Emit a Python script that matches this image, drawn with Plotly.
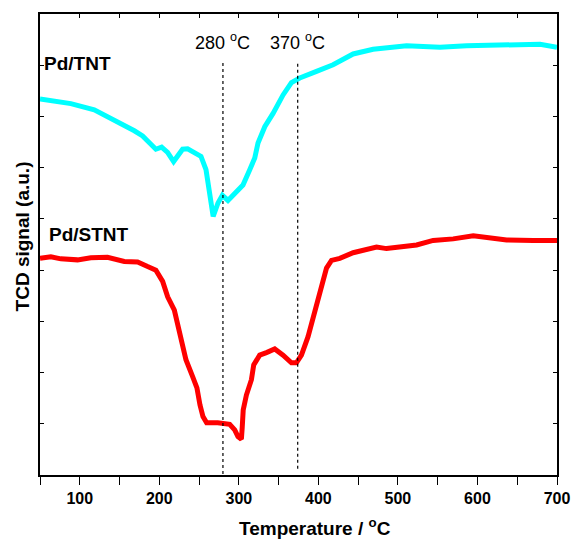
import plotly.graph_objects as go

# Pd/TNT (cyan) trace
tnt_T = [50, 88.8, 118.2, 134.9, 151.7, 168.6, 179.0, 189.5, 195.7, 202.9, 210.4, 218.0,
         223.0, 229.3, 235.6, 244.1, 252.4, 258.7, 261.7, 264.2, 267.7, 273.8, 279.3, 286.3,
         294.8, 305.2, 313.7, 320.0, 324.1, 332.6, 343.0, 355.6, 366.1, 376.6, 397.6, 418.5,
         443.7, 468.8, 510.9, 552.8, 586.4, 636.7, 678.7, 700]
tnt_sig = [7.34, 7.25, 7.13, 7.00, 6.87, 6.72, 6.62, 6.45, 6.36, 6.40, 6.30, 6.12,
           6.21, 6.36, 6.37, 6.30, 6.22, 5.96, 5.70, 5.37, 5.05, 5.31, 5.46, 5.36,
           5.50, 5.66, 5.96, 6.19, 6.48, 6.80, 7.06, 7.42, 7.66, 7.75, 7.88, 8.01,
           8.22, 8.31, 8.38, 8.35, 8.38, 8.40, 8.41, 8.35]

# Pd/STNT (red) trace
stnt_T = [50, 63.6, 76.2, 97.2, 113.9, 134.9, 156.0, 172.7, 185.3, 195.7, 204.2, 210.5,
          218.9, 223.0, 228.1, 233.5, 241.9, 247.3, 251.1, 254.9, 259.5, 273.4, 288.5, 294.8,
          298.9, 301.7, 303.2, 304.2, 305.5, 309.5, 315.8, 318.7, 326.2, 334.7, 345.1, 355.6,
          366.1, 372.4, 378.7, 387.0, 395.5, 403.9, 410.2, 416.5, 426.9, 443.7, 460.5, 473.1,
          485.7, 502.4, 523.5, 544.3, 569.5, 594.7, 615.7, 636.7, 670.2, 700]
stnt_sig = [4.23, 4.26, 4.22, 4.20, 4.24, 4.25, 4.17, 4.16, 4.07, 4.00, 3.78, 3.48,
            3.22, 2.96, 2.67, 2.25, 1.92, 1.70, 1.37, 1.14, 1.02, 1.02, 0.99, 0.88,
            0.75, 0.72, 0.70, 0.92, 1.27, 1.56, 1.86, 2.15, 2.34, 2.39, 2.46, 2.34,
            2.19, 2.19, 2.34, 2.70, 3.22, 3.68, 4.04, 4.19, 4.23, 4.34, 4.41, 4.45,
            4.42, 4.45, 4.49, 4.58, 4.61, 4.67, 4.62, 4.59, 4.58, 4.58]

marker_T = [280, 374]
marker_labels = ["280 <sup>o</sup>C", "370 <sup>o</sup>C"]
marker_top = [8.1, 8.03]
marker_bottom = [0.02, 0.12]

x_tickvals = [100, 200, 300, 400, 500, 600, 700]
x_ticktext = ["100", "200", "300", "400", "500", "600", "700"]

FONT = "Arial, Liberation Sans, sans-serif"

fig = go.Figure()
fig.add_trace(go.Scatter(x=tnt_T, y=tnt_sig, mode="lines",
                         line=dict(color="#00FFFF", width=5), showlegend=False))
fig.add_trace(go.Scatter(x=stnt_T, y=stnt_sig, mode="lines",
                         line=dict(color="#FF0000", width=5), showlegend=False))
for t, top, bot in zip(marker_T, marker_top, marker_bottom):
    fig.add_trace(go.Scatter(x=[t, t], y=[bot, top], mode="lines",
                             line=dict(color="black", width=1.2, dash="dot"),
                             showlegend=False))
# invisible trace for top axis
fig.add_trace(go.Scatter(x=[50, 700], y=[0, 0], xaxis="x2", mode="lines",
                         line=dict(width=0), opacity=0, showlegend=False, hoverinfo="skip"))

annotations = []
for t, lab in zip(marker_T, marker_labels):
    annotations.append(dict(x=t, y=(475 - 42) / 51.2, xref="x", yref="y", text=lab,
                            showarrow=False, xanchor="center", yanchor="middle",
                            font=dict(family=FONT, size=18, color="black")))
annotations.append(dict(x=53, y=(475 - 64) / 51.2, xref="x", yref="y", text="<b>Pd/TNT</b>",
                        showarrow=False, xanchor="left", yanchor="middle",
                        font=dict(family=FONT, size=19, color="black")))
annotations.append(dict(x=59, y=(475 - 235) / 51.2, xref="x", yref="y", text="<b>Pd/STNT</b>",
                        showarrow=False, xanchor="left", yanchor="middle",
                        font=dict(family=FONT, size=19, color="black")))
annotations.append(dict(x=(315 - 40) / 517, y=-0.112, xref="paper", yref="paper",
                        text="<b>Temperature / <sup>o</sup>C</b>", showarrow=False,
                        xanchor="center", yanchor="middle",
                        font=dict(family=FONT, size=19, color="black")))
annotations.append(dict(x=-0.034, y=(475 - 236) / 461, xref="paper", yref="paper",
                        text="<b>TCD signal (a.u.)</b>", showarrow=False, textangle=-90,
                        xanchor="center", yanchor="middle",
                        font=dict(family=FONT, size=19, color="black")))

fig.update_layout(
    width=574, height=542, autosize=False,
    margin=dict(l=40, r=17, t=14, b=67, autoexpand=False),
    paper_bgcolor="white", plot_bgcolor="white",
    font=dict(family=FONT, color="black"),
    annotations=annotations,
    xaxis=dict(range=[50, 700], tickvals=x_tickvals, ticktext=x_ticktext, automargin=False,
               ticks="outside", ticklen=8, tickwidth=1.3, tickcolor="black",
               minor=dict(tickvals=[50, 150, 250, 350, 450, 550, 650], ticks="outside",
                          ticklen=8, tickwidth=1.3, tickcolor="black"),
               showline=True, linecolor="black", linewidth=1.8, mirror=True,
               showgrid=False, zeroline=False,
               tickfont=dict(family=FONT, size=16, color="black", weight="bold")),
    xaxis2=dict(range=[50, 700], overlaying="x", side="top", anchor="y", automargin=False,
                showticklabels=False,
                tickvals=[50, 100, 150, 200, 250, 300, 350, 400, 450, 500, 550, 600, 650, 700],
                ticks="inside", ticklen=4, tickwidth=1, tickcolor="black",
                showline=True, linecolor="black", linewidth=1.8,
                showgrid=False, zeroline=False),
    yaxis=dict(range=[0, 9], dtick=1, tick0=0, showticklabels=False, automargin=False,
               ticks="inside", ticklen=4, tickwidth=1, tickcolor="black",
               showline=True, linecolor="black", linewidth=1.8, mirror="ticks",
               showgrid=False, zeroline=False),
)

fig.write_html("out.html", config={"displayModeBar": False},
               post_script="document.body.style.margin='0';document.body.style.padding='0';")
